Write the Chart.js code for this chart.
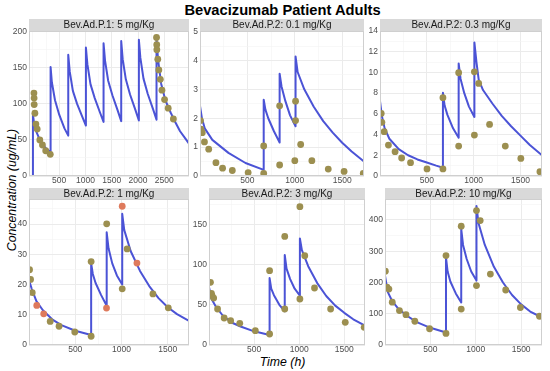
<!DOCTYPE html>
<html><head><meta charset="utf-8">
<script src="https://cdn.jsdelivr.net/npm/chart.js@4/dist/chart.umd.min.js"></script>
<style>
html,body{margin:0;padding:0;background:#fff;}
#wrap{position:relative;width:550px;height:371px;overflow:hidden;font-family:'Liberation Sans',Arial,sans-serif;background:#fff;}
#wrap canvas{position:absolute;}
.ttl{position:absolute;left:0;width:565px;top:1px;height:18px;line-height:18px;text-align:center;font-weight:bold;font-size:14.7px;color:#000;}
.xt{position:absolute;left:0;width:565px;top:354px;height:16px;line-height:16px;text-align:center;font-style:italic;font-size:12.3px;color:#000;}
.yt{position:absolute;left:-88px;top:182px;width:200px;height:16px;line-height:16px;text-align:center;font-style:italic;font-size:12.3px;color:#000;transform:rotate(-90deg);}
</style></head>
<body>
<div id="wrap">
  <div class="ttl">Bevacizumab Patient Adults</div>
  <div class="yt">Concentration (ug/mL)</div>
  <div class="xt">Time (h)</div>
</div>
<script>
// ---------- data ----------
const panelTitles = ["Bev.Ad.P.1: 5 mg/Kg","Bev.Ad.P.2: 0.1 mg/Kg","Bev.Ad.P.2: 0.3 mg/Kg","Bev.Ad.P.2: 1 mg/Kg","Bev.Ad.P.2: 3 mg/Kg","Bev.Ad.P.2: 10 mg/Kg"];

const xTicksP1 = [500,1000,1500,2000,2500];
const xTicksP2 = [500,1000,1500];
const yTicks1 = [0,50,100,150,200];
const yTicks2 = [0,1,2,3,4,5];
const yTicks3 = [0,2,4,6,8,10,12,14];
const yTicks4 = [0,10,20,30,40];
const yTicks5 = [0,50,100,150];
const yTicks6 = [0,100,200,300,400];

// predicted concentration lines [time h, conc ug/mL]
const p1Line = [[0,0],[0,85],[24,72],[72,60],[150,47],[250,38],[336,33],
 [336,151],[360,130],[420,105],[500,85],[600,66],[672,56],
 [672,168],[700,145],[760,118],[840,100],[940,82],[1008,70],
 [1008,178],[1036,155],[1096,127],[1176,108],[1276,88],[1344,75],
 [1344,184],[1372,160],[1432,132],[1512,112],[1612,91],[1680,76],
 [1680,187],[1708,162],[1768,134],[1848,113],[1948,92],[2016,77],
 [2016,189],[2044,164],[2104,135],[2184,114],[2284,93],[2352,78],
 [2352,191],[2380,162],[2440,128],[2520,105],[2620,88],[2700,76],[2800,62],[2970,45]];
const p2Line = [[0,0],[0,2.43],[20,2.0],[50,1.65],[130,1.25],[300,0.8],[480,0.45],[672,0.21],
 [672,2.64],[690,2.3],[720,2.0],[780,1.55],[840,1.16],
 [840,3.54],[860,3.1],[900,2.6],[950,2.1],[1008,1.72],
 [1008,4.14],[1030,3.6],[1100,3.0],[1200,2.4],[1300,1.9],[1400,1.5],[1500,1.15],[1600,0.85],[1730,0.5]];
const p3Line = [[0,0],[0,7.23],[20,5.8],[50,4.6],[100,3.6],[200,2.6],[300,2.0],[400,1.6],[500,1.3],[600,1.0],[672,0.8],
 [672,8.04],[690,6.8],[720,5.9],[780,4.6],[840,3.7],
 [840,10.87],[860,9.4],[900,8.0],[950,6.7],[1008,5.7],
 [1008,12.9],[1030,11.0],[1054,9.3],[1100,8.3],[1200,7.0],[1300,5.8],[1400,4.8],[1500,3.9],[1600,3.0],[1730,2.0]];
const p4Line = [[0,0],[0,21.5],[30,18.5],[80,14.5],[150,11.5],[250,8.5],[350,6.6],[500,4.7],[672,3.3],
 [672,27],[690,23.5],[720,20.5],[780,16.5],[840,13],
 [840,37.3],[860,32],[900,27],[950,23],[1008,20],
 [1008,43.4],[1030,38],[1100,31],[1200,24.5],[1300,19.5],[1400,15.5],[1500,12.5],[1600,10.2],[1730,8]];
const p5Line = [[0,0],[0,72],[30,57],[80,47],[150,37],[250,28],[350,23],[500,17],[672,12.5],
 [672,83.3],[690,70],[720,62],[780,50],[840,42],
 [840,112],[860,95],[900,82],[950,70],[1008,61.3],
 [1008,132.6],[1030,118],[1100,98],[1200,77],[1300,61],[1400,49],[1500,40],[1600,32],[1730,24]];
const p6Line = [[0,0],[0,222],[30,170],[80,140],[150,115],[250,92],[350,73],[500,55],[672,40],
 [672,280],[690,235],[720,203],[780,165],[840,136],
 [840,371],[860,320],[900,275],[950,235],[1008,206],
 [1008,445],[1030,390],[1100,320],[1200,250],[1300,200],[1400,160],[1500,130],[1600,107],[1730,88]];

// observed concentrations [time h, conc ug/mL]
const p1Obs = [[19,115],[22,108],[24,99],[37,87],[56,72],[81,65],[131,50],[181,43],[243,35],[330,30],
 [2352,192],[2356,182],[2358,175],[2376,162],[2396,147],[2424,134],[2455,119],[2505,106],[2574,94],[2673,79]];
const p2Obs = [[5,1.92],[10,1.62],[24,1.50],[47,1.18],[92,0.93],[168,0.46],[238,0.27],[341,0.19],[508,0.12],[672,0.09],
 [672,1.04],[840,2.43],[840,0.38],[1008,2.59],[1008,1.92],[1000,0.53],[1062,1.09],[1180,0.53],[1353,0.24],[1520,0.16],[1722,0.09]];
const p3Obs = [[13,6.04],[20,5.18],[45,4.28],[90,2.99],[161,2.35],[231,1.74],[326,1.29],[502,0.68],[672,0.68],
 [672,7.56],[840,9.97],[840,2.89],[1008,10.06],[1008,3.95],[1054,8.94],[1170,4.98],[1338,2.89],[1504,1.70],[1708,0.42]];
const p4Obs = [[6,24.9],[17,21.7],[35,17.3],[229,7.8],[325,6.2],[495,4.3],[672,2.9],[672,27.6],
 [840,40.1],[1008,18.6],[1061,31.8],[1340,16.9],[1506,12.3]];
const p4ObsAlt = [[84,13.1],[159,10.3],[838,12.2],[1008,45.9],[1167,27.1]];
const p5Obs = [[16,77.9],[27,64.2],[34,61.3],[52,58.4],[95,44.8],[168,33.6],[240,30.3],[341,26.9],[514,17.8],[672,13.7],
 [672,92.4],[840,135],[840,44.8],[1008,172],[1008,57.2],[1062,111],[1170,70.9],[1349,44.8],[1511,28.2],[1721,22]];
const p6Obs = [[4,236],[22,185],[43,179],[80,137],[159,110],[231,97],[329,76],[491,52],[672,37],
 [672,286],[840,115],[840,380],[1008,430],[1008,190],[1049,398],[1161,227],[1330,176],[1492,120],[1702,92]];

// ---------- layout / style ----------
const LINE_COL = '#4B53D6', DOT_COL = '#9C8F50', DOT_ALT = '#DE7A5C';
const panels = [
 {title:panelTitles[0], l:29, r:192, t:31, b:176, s:12, xmin:-75, xmax:2970, ymax:201, xt:xTicksP1, yt:yTicks1, line:p1Line, obs:[p1Obs]},
 {title:panelTitles[1], l:200, r:367, t:31, b:176, s:12, xmin:0, xmax:1730, ymax:5.02, xt:xTicksP2, yt:yTicks2, line:p2Line, obs:[p2Obs]},
 {title:panelTitles[2], l:380, r:545, t:31, b:176, s:12, xmin:0, xmax:1730, ymax:14.0, xt:xTicksP2, yt:yTicks3, line:p3Line, obs:[p3Obs]},
 {title:panelTitles[3], l:29, r:192, t:199, b:345, s:11, xmin:0, xmax:1730, ymax:48.3, xt:xTicksP2, yt:yTicks4, line:p4Line, obs:[p4Obs,p4ObsAlt]},
 {title:panelTitles[4], l:209, r:368, t:199, b:345, s:11, xmin:0, xmax:1730, ymax:181.6, xt:xTicksP2, yt:yTicks5, line:p5Line, obs:[p5Obs]},
 {title:panelTitles[5], l:385, r:545, t:199, b:345, s:11, xmin:0, xmax:1730, ymax:467, xt:xTicksP2, yt:yTicks6, line:p6Line, obs:[p6Obs]}
];

function withMinors(majors, lo, hi){
  const step = majors[1]-majors[0];
  const all = new Set(majors);
  for (let v = majors[0]-step/2; v <= hi; v += step) if (v >= lo) all.add(v);
  for (let v = majors[0]-step; v >= lo; v -= step) all.add(v);
  return [...all].filter(v=>v>=lo && v<=hi).sort((a,b)=>a-b);
}

const stripPlugin = {
  id:'strip',
  beforeDraw(chart, args, o){
    const {ctx, chartArea:a} = chart;
    ctx.save();
    ctx.fillStyle = '#fff';
    ctx.fillRect(a.left, a.top, a.right-a.left, a.bottom-a.top);
    ctx.restore();
  },
  afterDraw(chart, args, o){
    const {ctx, chartArea:a} = chart;
    ctx.save();
    ctx.fillStyle = '#D9D9D9';
    ctx.fillRect(a.left, a.top - o.h, a.right - a.left, o.h);
    ctx.fillStyle = '#1A1A1A';
    ctx.font = '10px "Liberation Sans", Arial, sans-serif';
    ctx.textAlign = 'center'; ctx.textBaseline = 'middle';
    ctx.fillText(o.text, (a.left + a.right)/2, a.top - o.h/2 + 0.5);
    ctx.strokeStyle = '#CFCFCF'; ctx.lineWidth = 1;
    ctx.strokeRect(a.left + 0.5, a.top + 0.5, a.right - a.left - 1, a.bottom - a.top - 1);
    ctx.restore();
  }
};

const wrap = document.getElementById('wrap');
const AX = 28, XH = 13;
panels.forEach(p => {
  const W = (p.r - p.l) + AX + 1, H = (p.b - p.t) + p.s + XH;
  const c = document.createElement('canvas');
  c.width = W; c.height = H;
  c.style.left = (p.l - AX) + 'px'; c.style.top = (p.t - p.s) + 'px';
  c.style.width = W + 'px'; c.style.height = H + 'px';
  wrap.appendChild(c);
  const xAll = withMinors(p.xt, p.xmin, p.xmax);
  const yAll = withMinors(p.yt, 0, p.ymax);
  const datasets = [
    {data: p.line.map(([x,y]) => ({x,y})), showLine:true, borderColor:LINE_COL, borderWidth:2,
     pointRadius:0, tension:0, order:3, borderJoinStyle:'round'},
  ];
  p.obs.forEach((arr, i) => {
    datasets.push({data: arr.map(([x,y]) => ({x,y})), backgroundColor: i === 0 ? DOT_COL : DOT_ALT,
      borderWidth:0, pointRadius:3.4, order: 1 + i});
  });
  const tickFont = {size:8.5, family:'"Liberation Sans", Arial, sans-serif'};
  new Chart(c, {
    type:'scatter',
    data:{datasets},
    options:{
      responsive:false, animation:false, devicePixelRatio:1,
      layout:{padding:{top:p.s, right:1, left:0, bottom:0}},
      plugins:{legend:{display:false}, tooltip:{enabled:false}, strip:{text:p.title, h:p.s}},
      scales:{
        x:{type:'linear', min:p.xmin, max:p.xmax,
           afterFit(s){ s.height = XH; },
           afterBuildTicks(s){ s.ticks = xAll.map(v => ({value:v})); },
           ticks:{autoSkip:false, maxRotation:0, padding:0, color:'#4D4D4D', font:tickFont,
                  callback:(v) => p.xt.includes(v) ? String(v) : ''},
           grid:{drawTicks:false, color:(ctx)=> p.xt.includes(ctx.tick && ctx.tick.value) ? '#EBEBEB' : '#F4F4F4',
                 lineWidth:(ctx)=> p.xt.includes(ctx.tick && ctx.tick.value) ? 1 : 0.6},
           border:{display:false}},
        y:{type:'linear', min:0, max:p.ymax,
           afterFit(s){ s.width = AX; },
           afterBuildTicks(s){ s.ticks = yAll.map(v => ({value:v})); },
           ticks:{autoSkip:false, padding:2, color:'#4D4D4D', font:tickFont,
                  callback:(v) => p.yt.includes(v) ? String(v) : ''},
           grid:{drawTicks:false, color:(ctx)=> p.yt.includes(ctx.tick && ctx.tick.value) ? '#EBEBEB' : '#F4F4F4',
                 lineWidth:(ctx)=> p.yt.includes(ctx.tick && ctx.tick.value) ? 1 : 0.6},
           border:{display:false}}
      }
    },
    plugins:[stripPlugin]
  });
});
</script>
</body></html>
